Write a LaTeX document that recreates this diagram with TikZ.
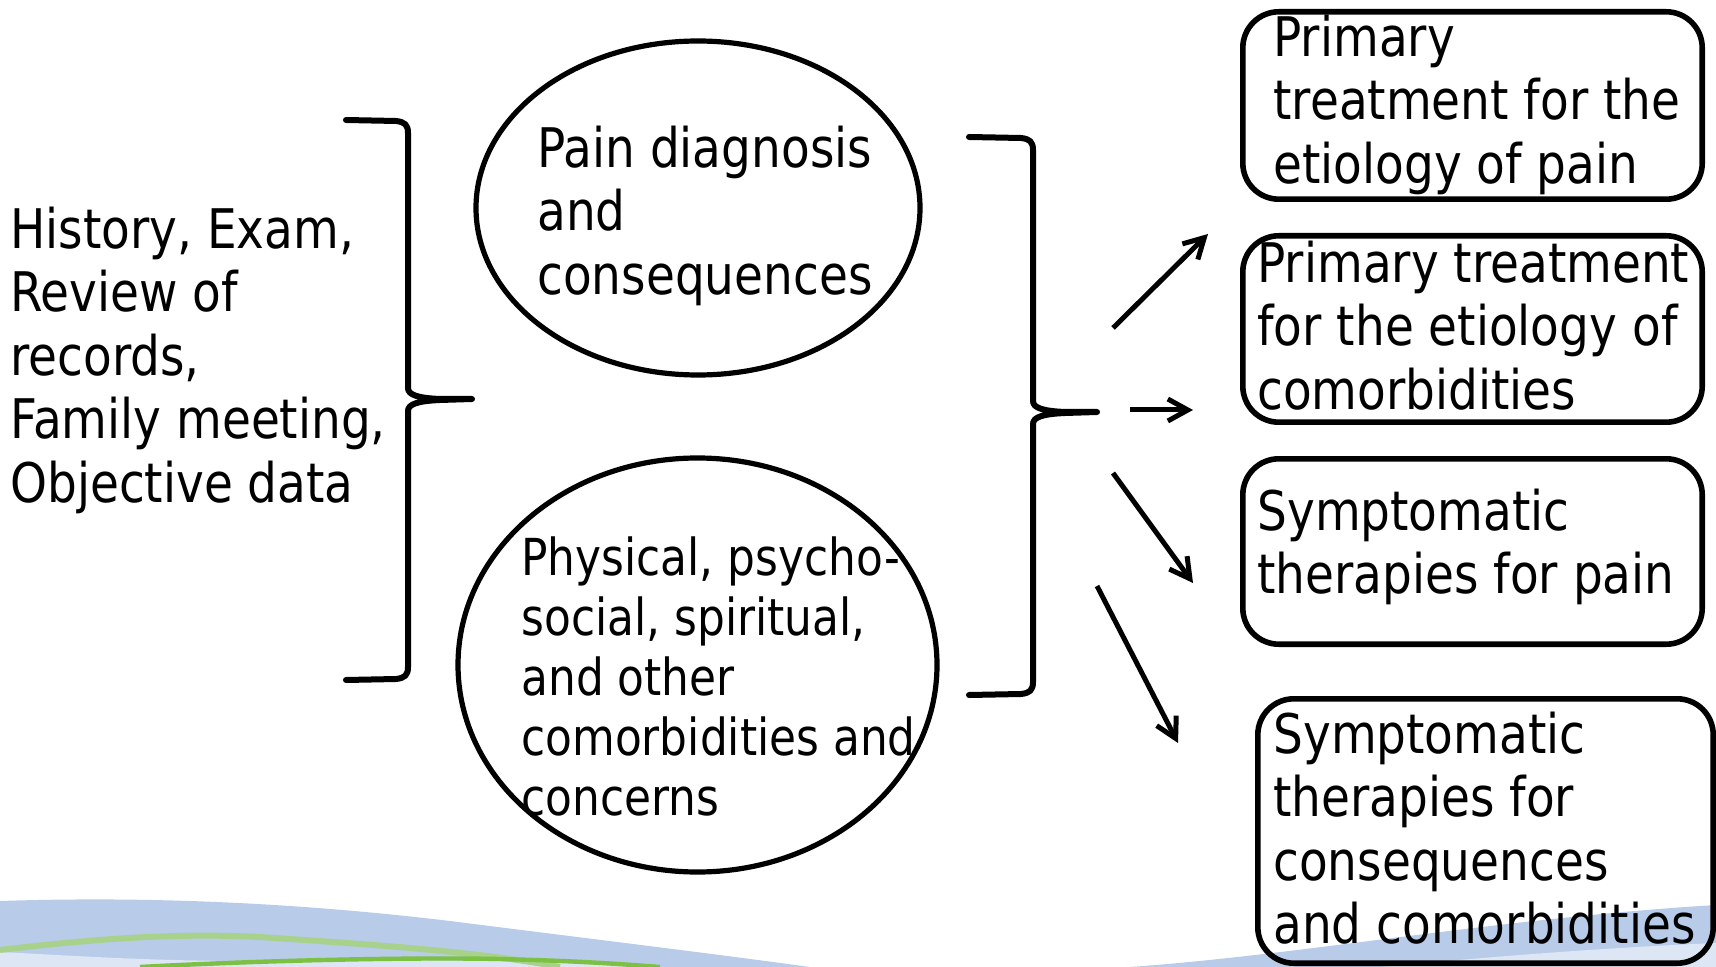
\documentclass[tikz,border=0pt]{standalone}
\usepackage{fontspec}
\setmainfont{DejaVu Sans}[FakeStretch=0.86]
\usetikzlibrary{arrows.meta,shapes.geometric}
\definecolor{bandblue}{HTML}{B8CCE9}
\definecolor{paleblue}{HTML}{DCE6F4}
\definecolor{lightgreen}{HTML}{A8D18C}
\definecolor{brightgreen}{HTML}{7CC142}
\begin{document}
\begin{tikzpicture}[x=0.5pt,y=-0.5pt,
  txt/.style={anchor=north west, inner sep=0pt, align=left, font=\fontsize{27.3pt}{31.75pt}\selectfont},
  txtsmall/.style={anchor=north west, inner sep=0pt, align=left, font=\fontsize{25.5pt}{30pt}\selectfont},
  oval/.style={draw, ellipse, line width=2.6pt, inner sep=0pt},
  box/.style={draw, rectangle, rounded corners=18pt, line width=2.8pt, inner sep=0pt},
  brace/.style={line width=3pt, line cap=round, line join=round},
  arr/.style={line width=2.5pt, -{Straight Barb[length=10pt,width=11pt]}},
]
\useasboundingbox (0,0) rectangle (1716,967);
\fill[white] (0,0) rectangle (1716,967);

% bottom decoration
\fill[bandblue] (0,901) .. controls (150,896) and (300,903) .. (450,921)
  .. controls (600,940) and (700,952) .. (810,967) -- (0,967) -- cycle;
\fill[paleblue] (0,952) .. controls (80,956) and (150,961) .. (250,961)
  .. controls (400,959) and (550,960) .. (650,967) -- (0,967) -- cycle;
\draw[lightgreen, line width=3pt] (0,950) .. controls (100,938) and (180,933) .. (260,937)
  .. controls (380,945) and (480,952) .. (560,967);
\draw[brightgreen, line width=2.2pt] (140,967) .. controls (250,961) and (400,957) .. (500,959)
  .. controls (580,961) and (620,964) .. (660,967);
\fill[bandblue] (1130,967) .. controls (1300,955) and (1500,918) .. (1716,905) -- (1716,967) -- cycle;
\fill[paleblue] (1380,967) .. controls (1500,956) and (1600,948) .. (1716,943) -- (1716,967) -- cycle;

% left text
\node[txt] (hist) at (10,203.5) {\strut History, Exam,\\Review of\\records,\\Family meeting,\\Objective data};

% left brace
\draw[brace] (346,120) -- (396,121) .. controls (405,122) and (408,125) .. (408,133)
  -- (408,388) .. controls (408,395) and (418,398) .. (440,399) -- (472,399)
  -- (440,400) .. controls (418,401) and (408,404) .. (408,411)
  -- (408,667) .. controls (408,675) and (405,678) .. (396,679) -- (346,680);

% ellipses
\node[oval, minimum width=222pt, minimum height=167pt] (e1) at (698,208) {};
\node[oval, minimum width=239.5pt, minimum height=207pt] (e2) at (697.5,665) {};
\node[txt] (e1t) at (537,122.5) {\strut Pain diagnosis\\and\\consequences};
\node[txtsmall] (e2t) at (521,533) {\strut Physical, psycho-\\social, spiritual,\\and other\\comorbidities and\\concerns};

% right brace
\draw[brace] (969,137) -- (1021,138) .. controls (1030,139) and (1033,142) .. (1033,150)
  -- (1033,401) .. controls (1033,408) and (1043,411) .. (1065,412) -- (1097,412)
  -- (1065,413) .. controls (1043,414) and (1033,417) .. (1033,424)
  -- (1033,682) .. controls (1033,690) and (1030,693) .. (1021,694) -- (969,695);

% arrows
\coordinate (a1s) at (1113,328); \coordinate (a1e) at (1208,234);
\coordinate (a2s) at (1130,410); \coordinate (a2e) at (1193,410);
\coordinate (a3s) at (1113,473); \coordinate (a3e) at (1193,583);
\coordinate (a4s) at (1097,586); \coordinate (a4e) at (1178,743);
\draw[arr] (a1s) -- (a1e);
\draw[arr] (a2s) -- (a2e);
\draw[arr] (a3s) -- (a3e);
\draw[arr] (a4s) -- (a4e);

% boxes
\node[box, minimum width=229.7pt, minimum height=93.7pt] (b1) at (1472.5,105.5) {};
\node[box, minimum width=229.7pt, minimum height=93.2pt] (b2) at (1472.5,329) {};
\node[box, minimum width=229.7pt, minimum height=92.7pt] (b3) at (1472.5,551.5) {};
\node[box, minimum width=227.7pt, minimum height=132.2pt] (b4) at (1485.5,831) {};
\node[txt] (b1t) at (1273,11.5) {\strut Primary\\treatment for the\\etiology of pain};
\node[txt] (b2t) at (1257,237.5) {\strut Primary treatment\\for the etiology of\\comorbidities};
\node[txt] (b3t) at (1257,485.5) {\strut Symptomatic\\therapies for pain};
\node[txt] (b4t) at (1273,708.5) {\strut Symptomatic\\therapies for\\consequences\\and comorbidities};
\end{tikzpicture}
\end{document}
